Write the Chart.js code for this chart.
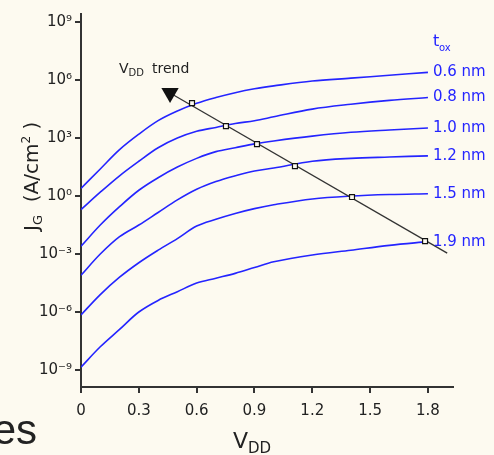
<!DOCTYPE html>
<html>
<head>
<meta charset="utf-8">
<script src="https://cdn.jsdelivr.net/npm/chart.js@4.4.1/dist/chart.umd.min.js"></script>
<style>
  html, body { margin: 0; padding: 0; background: #fdfaf0; }
  #wrap { position: relative; width: 494px; height: 455px; }
</style>
</head>
<body>
<div id="wrap"><canvas id="chart"></canvas></div>
<script>
// V_DD samples (V)
const vdd = [0, 0.1, 0.2, 0.3, 0.4, 0.5, 0.6, 0.7, 0.8, 0.9, 1.0, 1.2, 1.4, 1.6, 1.8];

// log10 of J_G (A/cm2), one per oxide thickness
const jg06 = [0.4, 1.4, 2.4, 3.2, 3.9, 4.4, 4.8, 5.1, 5.35, 5.55, 5.7, 5.95, 6.1, 6.25, 6.4];
const jg08 = [-0.7, 0.2, 1.05, 1.8, 2.5, 3.0, 3.35, 3.55, 3.75, 3.9, 4.1, 4.5, 4.75, 4.95, 5.1];
const jg10 = [-2.6, -1.5, -0.55, 0.3, 0.95, 1.5, 1.95, 2.3, 2.5, 2.7, 2.85, 3.1, 3.3, 3.42, 3.52];
const jg12 = [-4.1, -3.0, -2.1, -1.5, -0.85, -0.2, 0.35, 0.75, 1.05, 1.3, 1.45, 1.8, 1.95, 2.02, 2.08];
const jg15 = [-6.15, -5.1, -4.2, -3.45, -2.8, -2.2, -1.55, -1.2, -0.9, -0.65, -0.45, -0.15, 0.0, 0.08, 0.12];
const jg19 = [-8.85, -7.8, -6.9, -6.0, -5.4, -4.95, -4.5, -4.25, -4.0, -3.7, -3.4, -3.05, -2.8, -2.55, -2.36];

const toxLabels = ['0.6 nm', '0.8 nm', '1.0 nm', '1.2 nm', '1.5 nm', '1.9 nm'];
const xTicks = [0, 0.3, 0.6, 0.9, 1.2, 1.5, 1.8];
const yTicks = [-9, -6, -3, 0, 3, 6, 9];

// V_DD trend arrow and the crossing markers
const trendV = [0.462, 1.9];
const trendJ = [5.33, -2.95];
const markerV = [0.576, 0.752, 0.913, 1.11, 1.406, 1.785];
const markerJ = [4.81, 3.62, 2.69, 1.55, -0.05, -2.33];

const curves = [jg06, jg08, jg10, jg12, jg15, jg19];
const blue = '#2424ff';
const ink = '#222222';
const sup = { '-': '\u207B', '0': '\u2070', '1': '\u00B9', '2': '\u00B2', '3': '\u00B3',
    '4': '\u2074', '5': '\u2075', '6': '\u2076', '7': '\u2077', '8': '\u2078', '9': '\u2079' };

const pts = (xs, ys) => xs.map((x, i) => ({ x, y: ys[i] }));

const textPlugin = {
    id: 'texts',
    afterDraw(chart) {
        const { ctx, scales: { x, y } } = chart;
        ctx.save();

        // curve labels
        ctx.fillStyle = blue;
        ctx.textBaseline = 'middle';
        ctx.font = '15px "DejaVu Sans"';
        const lx = x.getPixelForValue(vdd[vdd.length - 1]) + 5;
        curves.forEach((c, i) => ctx.fillText(toxLabels[i], lx, y.getPixelForValue(c[c.length - 1])));

        ctx.textBaseline = 'alphabetic';
        ctx.font = '16px "DejaVu Sans"';
        ctx.fillText('t', 433, 46);
        ctx.font = '10px "DejaVu Sans"';
        ctx.fillText('ox', 439, 51);

        // trend label
        ctx.fillStyle = ink;
        ctx.font = '14px "DejaVu Sans"';
        ctx.fillText('V', 119, 73);
        let w = ctx.measureText('V').width;
        ctx.font = '10px "DejaVu Sans"';
        ctx.fillText('DD', 119 + w, 76);
        ctx.font = '14px "DejaVu Sans"';
        ctx.fillText('trend', 152, 73);

        // x title
        ctx.font = '22px "DejaVu Sans"';
        ctx.fillText('V', 233, 448);
        w = ctx.measureText('V').width;
        ctx.font = '15px "DejaVu Sans"';
        ctx.fillText('DD', 233 + w, 453);

        // y title
        ctx.save();
        ctx.translate(38, 231);
        ctx.rotate(-Math.PI / 2);
        let cx = 0;
        ctx.font = '20px "DejaVu Sans"';
        ctx.fillText('J', cx, 0);
        cx += ctx.measureText('J').width;
        ctx.font = '13px "DejaVu Sans"';
        ctx.fillText('G', cx, 4);
        cx += ctx.measureText('G').width;
        ctx.font = '20px "DejaVu Sans"';
        ctx.fillText('  (A/cm', cx, 0);
        cx += ctx.measureText('  (A/cm').width;
        ctx.font = '12px "DejaVu Sans"';
        ctx.fillText('2', cx, -8);
        cx += ctx.measureText('2').width;
        ctx.font = '20px "DejaVu Sans"';
        ctx.fillText(' )', cx, 0);
        ctx.restore();

        // slide text fragment
        ctx.font = '42px "Liberation Sans"';
        ctx.textAlign = 'right';
        ctx.fillText('es', 37, 444);

        ctx.restore();
    },
};

new Chart(document.getElementById('chart'), {
    type: 'line',
    data: {
        datasets: [
            {
                data: pts(markerV, markerJ),
                showLine: false,
                pointStyle: 'rect',
                pointRadius: 3.5,
                pointBorderWidth: 1.2,
                pointBorderColor: '#111',
                pointBackgroundColor: '#fdfaf0',
            },
            {
                data: [{ x: trendV[0], y: trendJ[0] }],
                showLine: false,
                pointStyle: 'triangle',
                pointRotation: 180,
                pointRadius: 10,
                pointBorderWidth: 0,
                pointBackgroundColor: '#111',
            },
            {
                data: pts(trendV, trendJ),
                borderColor: '#333',
                borderWidth: 1.3,
                pointRadius: 0,
            },
            ...curves.map((c) => ({
                data: pts(vdd, c),
                borderColor: blue,
                borderWidth: 1.6,
                pointRadius: 0,
                tension: 0.35,
            })),
        ],
    },
    options: {
        responsive: true,
        maintainAspectRatio: false,
        animation: false,
        layout: { padding: { top: 14, right: 41, left: 0, bottom: 0 } },
        plugins: { legend: { display: false }, tooltip: { enabled: false } },
        scales: {
            x: {
                type: 'linear',
                min: 0,
                max: 1.93,
                afterBuildTicks: (s) => { s.ticks = xTicks.map((value) => ({ value })); },
                afterFit: (s) => { s.height = 68; },
                border: { color: '#333', width: 2 },
                grid: { drawOnChartArea: false, tickLength: 6, color: '#333', lineWidth: 2 },
                ticks: {
                    color: ink,
                    padding: 9,
                    maxRotation: 0,
                    font: { family: 'DejaVu Sans', size: 15 },
                    callback: (v) => (v === 0 ? '0' : v.toFixed(1)),
                },
            },
            y: {
                type: 'linear',
                min: -9.88,
                max: 9.42,
                afterBuildTicks: (s) => { s.ticks = yTicks.map((value) => ({ value })); },
                afterFit: (s) => { s.width = 81; },
                border: { color: '#333', width: 2 },
                grid: { drawOnChartArea: false, tickLength: 6, color: '#333', lineWidth: 2 },
                ticks: {
                    color: ink,
                    padding: 3,
                    font: { family: 'DejaVu Sans', size: 15 },
                    callback: (v) => '10' + String(v).split('').map((ch) => sup[ch]).join(''),
                },
            },
        },
    },
    plugins: [textPlugin],
});
</script>
</body>
</html>
